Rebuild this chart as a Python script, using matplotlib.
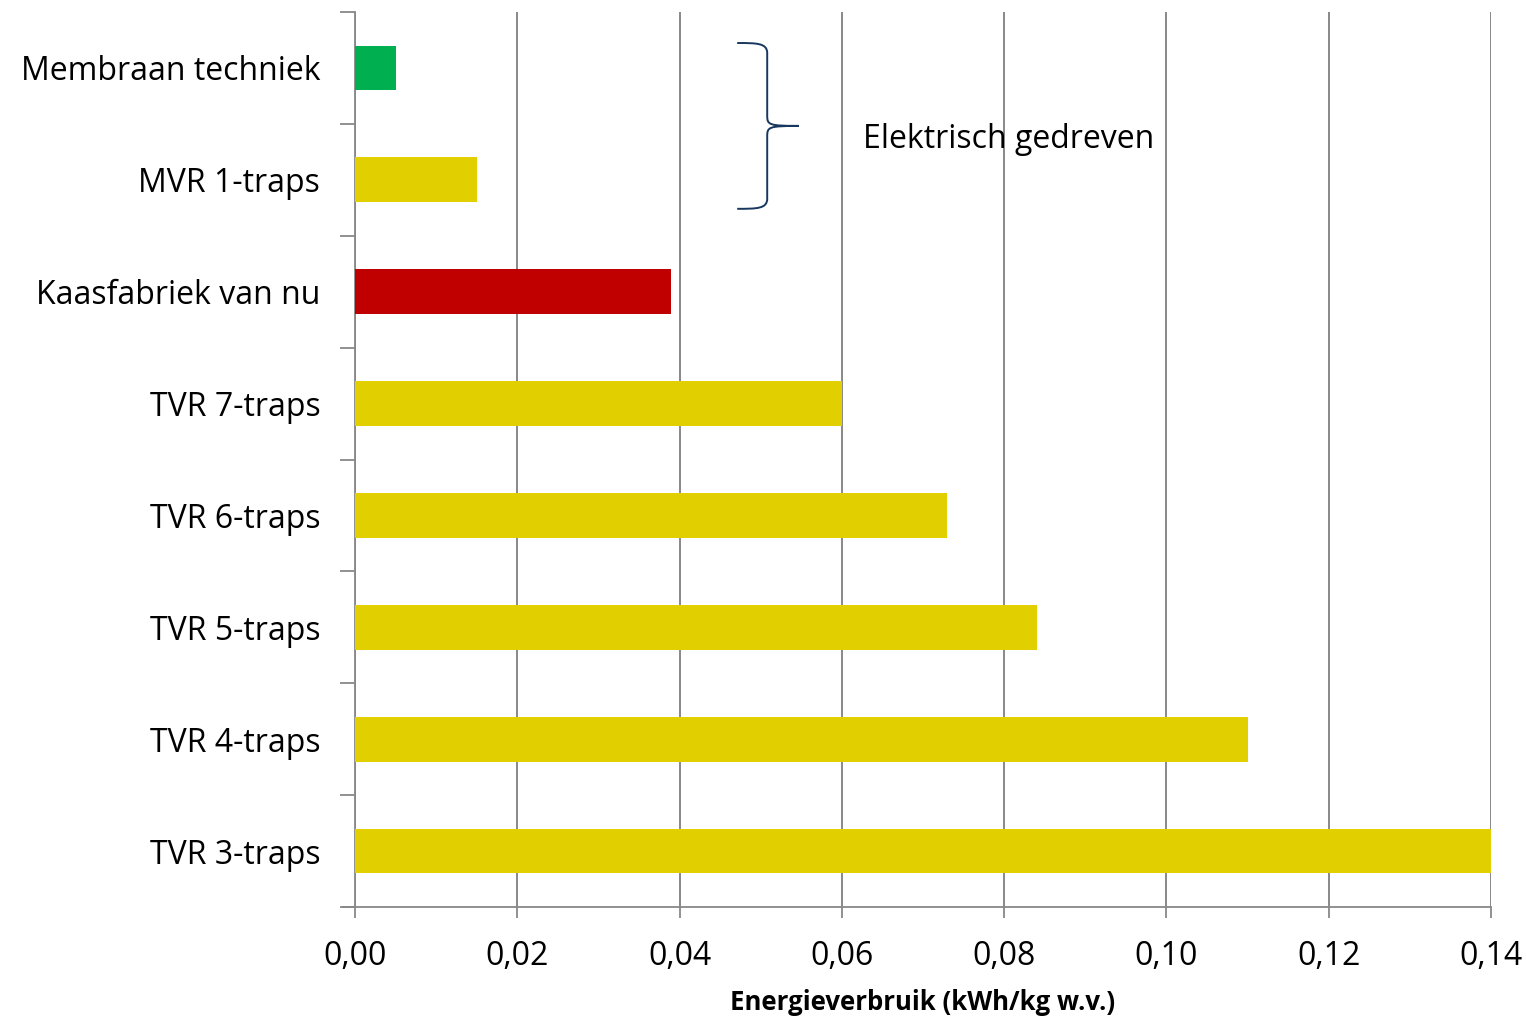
import matplotlib
matplotlib.use("Agg")
import matplotlib.pyplot as plt
from matplotlib.path import Path
from matplotlib.patches import PathPatch
from matplotlib.ticker import FuncFormatter

plt.rcParams["font.family"] = ["Open Sans", "DejaVu Sans"]

labels = ["Membraan techniek", "MVR 1-traps", "Kaasfabriek van nu", "TVR 7-traps",
          "TVR 6-traps", "TVR 5-traps", "TVR 4-traps", "TVR 3-traps"]
values = [0.005, 0.015, 0.039, 0.060, 0.073, 0.084, 0.110, 0.140]
colors = ["#00B050", "#E2CF00", "#C00000", "#E2CF00",
          "#E2CF00", "#E2CF00", "#E2CF00", "#E2CF00"]
xticks = [0.00, 0.02, 0.04, 0.06, 0.08, 0.10, 0.12, 0.14]

grid_c = "#888888"

fig = plt.figure(figsize=(15.27, 10.19), dpi=100)
ax = fig.add_axes([0.2325, 0.1099, 0.9764 - 0.2325, 0.9882 - 0.1099])

pos = list(range(len(labels)))
ax.barh(pos, values, height=0.4, color=colors, zorder=3)

ax.set_xlim(0, 0.14)
ax.set_ylim(len(labels) - 0.5, -0.5)

ax.set_xticks(xticks)
ax.xaxis.set_major_formatter(FuncFormatter(lambda v, p: f"{v:.2f}".replace(".", ",")))
ax.tick_params(axis="x", length=8, width=1.3, color=grid_c, labelsize=23, pad=16)
ax.grid(axis="x", color=grid_c, lw=1.4, zorder=0)

# category ticks at boundaries, labels at centres
ax.set_yticks([i - 0.5 for i in range(len(labels) + 1)])
ax.set_yticklabels([])
ax.tick_params(axis="y", which="major", length=11, width=1.3, color=grid_c)
ax.set_yticks(pos, minor=True)
ax.set_yticklabels(labels, minor=True, fontsize=23)
ax.tick_params(axis="y", which="minor", length=0, pad=25)

for s in ["top", "right"]:
    ax.spines[s].set_visible(False)
ax.spines["left"].set_color(grid_c)
ax.spines["left"].set_linewidth(1.3)
ax.spines["bottom"].set_color(grid_c)
ax.spines["bottom"].set_linewidth(1.3)
ax.spines["bottom"].set_bounds(-0.0015, 0.14)

ax.set_xlabel("Energieverbruik (kWh/kg w.v.)", fontsize=18.5, fontweight="bold", va="center")
ax.xaxis.set_label_coords(0.5, -0.107)

# curly brace for the electrically driven options
x0, xm, xt = 0.0471, 0.0508, 0.0547
y0, ymid, y1 = -0.223, 0.518, 1.259
verts = [
    (x0, y0), (0.0495, y0), (xm, y0), (xm, y0 + 0.09),
    (xm, ymid - 0.09),
    (xm, ymid - 0.01), (0.051, ymid), (xt, ymid),
    (0.051, ymid), (xm, ymid + 0.01), (xm, ymid + 0.09),
    (xm, y1 - 0.09),
    (xm, y1), (0.0495, y1), (x0, y1),
]
codes = [Path.MOVETO, Path.CURVE4, Path.CURVE4, Path.CURVE4,
         Path.LINETO,
         Path.CURVE4, Path.CURVE4, Path.CURVE4,
         Path.CURVE4, Path.CURVE4, Path.CURVE4,
         Path.LINETO,
         Path.CURVE4, Path.CURVE4, Path.CURVE4]
ax.add_patch(PathPatch(Path(verts, codes), fill=False, ec="#17375E", lw=1.4, zorder=4))
ax.text(0.0626, 0.64, "Elektrisch gedreven", fontsize=23, va="center", ha="left", zorder=5)

fig.savefig("out.png", dpi=100)
